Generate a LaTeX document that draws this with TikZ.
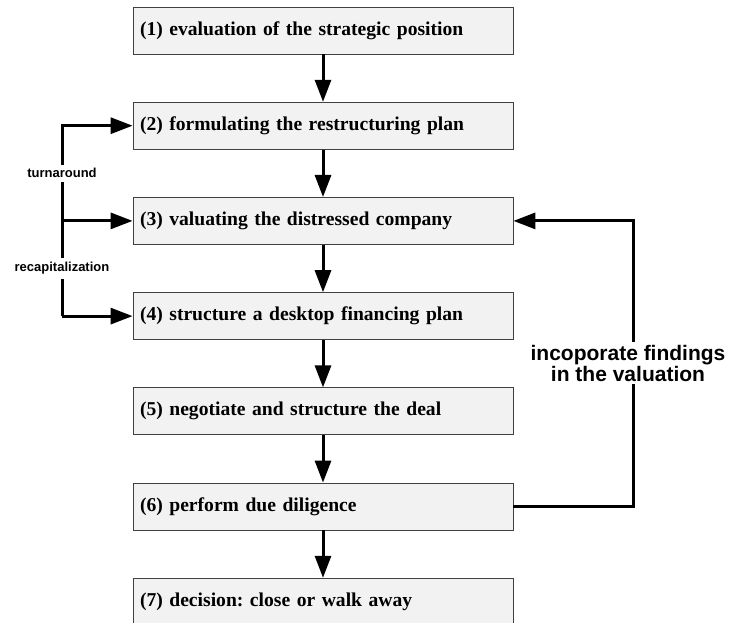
\documentclass[tikz,border=0pt]{standalone}
\usepackage{fontspec}
\setmainfont{Liberation Serif}
\newfontfamily\etiqfont{Liberation Sans}
\usetikzlibrary{arrows.meta,positioning,calc}

\tikzset{
	etape/.style={draw=black!75, line width=0.8pt, fill=black!5, minimum height=47pt, text width=366pt, inner sep=7pt, align=left, font=\fontsize{19.6}{22}\selectfont\bfseries\frenchspacing},
	fleche/.style={-{Triangle[length=22pt,width=16pt]}, line width=3pt},
	petit/.style={fill=white, inner xsep=1pt, inner ysep=4pt, font=\etiqfont\fontsize{13}{13}\selectfont\bfseries},
	grand/.style={fill=white, inner sep=3pt, align=center, font=\etiqfont\fontsize{21}{21}\selectfont\bfseries}
}

\begin{document}
\begin{tikzpicture}[x=1pt,y=-1pt]
	% Cadre
	\useasboundingbox (0,0) rectangle (729,623);
	
	% Etapes
	\node[etape] (e1) at (323,30.5) {(1) evaluation of the strategic position};
	\node[etape, below=47.4pt of e1] (e2) {(2) formulating the restructuring plan};
	\node[etape, below=47.4pt of e2] (e3) {(3) valuating the distressed company};
	\node[etape, below=47.4pt of e3] (e4) {(4) structure a desktop financing plan};
	\node[etape, below=47.4pt of e4] (e5) {(5) negotiate and structure the deal};
	\node[etape, below=47.4pt of e5] (e6) {(6) perform due diligence};
	\node[etape, below=47.4pt of e6] (e7) {(7) decision: close or walk away};
	
	% Fleches principales
	\foreach \i [count=\j from 2] in {1,...,6}
		\draw[fleche] (e\i) -- (e\j);
	
	% Branches a gauche
	\coordinate (g) at (62,0);
	\draw[fleche] (g |- e4) -- (g |- e2) -- (e2.west);
	\draw[fleche] (g |- e3) -- (e3.west);
	\draw[fleche] (g |- e4) -- (e4.west);
	\node[petit] (tour) at ($(g |- e2)!0.5!(g |- e3)$) {turnaround};
	\node[petit] (recap) at ($(g |- e3)!0.5!(g |- e4)$) {recapitalization};
	
	% Retour vers l'evaluation
	\coordinate (d) at (633,0);
	\draw[fleche] (e6.east) -- (e6.east -| d) -- (e3.east -| d) -- (e3.east);
	\node[grand] (retour) at (628,363) {incoporate findings\\in the valuation};
\end{tikzpicture}
\end{document}
